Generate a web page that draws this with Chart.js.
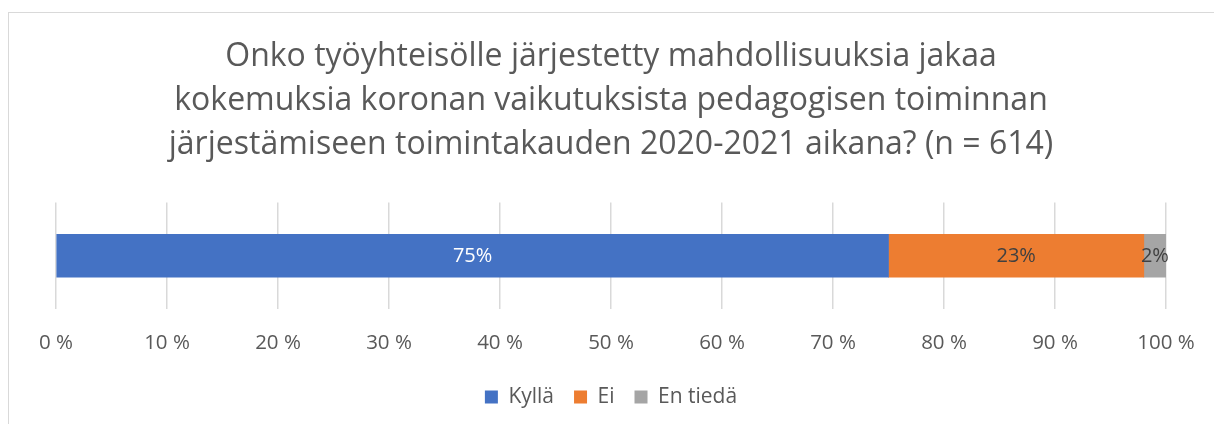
<!DOCTYPE html>
<html>
<head>
<meta charset="utf-8">
<script src="https://cdn.jsdelivr.net/npm/chart.js@4.4.1/dist/chart.umd.min.js"></script>
<style>
  html, body { margin: 0; padding: 0; background: #fff; }
  #wrap { position: relative; width: 1214px; height: 424px; overflow: hidden; }
  #frame {
    position: absolute; left: 8px; top: 12px; right: -10px; bottom: -10px;
    border-left: 1.5px solid #d9d9d9; border-top: 1.5px solid #d9d9d9;
  }
  canvas { position: absolute; left: 0; top: 0; }
</style>
</head>
<body>
<div id="wrap">
  <div id="frame"></div>
  <canvas id="chart" width="1214" height="424"></canvas>
</div>
<script>
/* ---------- data ---------- */
const CATEGORIES  = [''];
const SERIES      = ['Kyllä', 'Ei', 'En tiedä'];
const VALUES      = [[75], [23], [2]];
const COLORS      = ['#4472C4', '#ED7D31', '#A5A5A5'];
const LABEL_COLOR = ['#ffffff', '#404040', '#404040'];
const TITLE_LINES = [
  'Onko työyhteisölle järjestetty mahdollisuuksia jakaa',
  'kokemuksia koronan vaikutuksista pedagogisen toiminnan',
  'järjestämiseen toimintakauden 2020-2021 aikana? (n = 614)',
];

const FONT = "'Open Sans', sans-serif";
const GREY = '#595959';

/* ---------- value labels inside the bars ---------- */
const barLabels = {
  id: 'barLabels',
  afterDatasetsDraw(chart) {
    const ctx = chart.ctx;
    ctx.save();
    ctx.font = '20px ' + FONT;
    ctx.textAlign = 'center';
    ctx.textBaseline = 'middle';
    chart.data.datasets.forEach((ds, i) => {
      chart.getDatasetMeta(i).data.forEach((el, j) => {
        const x = (el.x + el.base) / 2;
        ctx.fillStyle = LABEL_COLOR[i];
        ctx.fillText(ds.data[j] + '%', x, el.y + 1);
      });
    });
    ctx.restore();
  },
};

new Chart(document.getElementById('chart').getContext('2d'), {
  type: 'bar',
  data: {
    labels: CATEGORIES,
    datasets: SERIES.map((name, i) => ({
      label: name,
      data: VALUES[i],
      backgroundColor: COLORS[i],
      barThickness: 43,
    })),
  },
  options: {
    indexAxis: 'y',
    responsive: false,
    animation: false,
    layout: { padding: { left: 56, right: 48, top: 0, bottom: 6.5 } },
    plugins: {
      title: {
        display: true,
        text: TITLE_LINES,
        color: GREY,
        font: { family: FONT, size: 32, weight: 'normal', lineHeight: 1.375 },
        padding: { top: 35, bottom: 35.5 },
      },
      legend: {
        position: 'bottom',
        labels: {
          color: GREY,
          font: { family: FONT, size: 21 },
          boxWidth: 13,
          boxHeight: 13,
          padding: 20,
        },
      },
      tooltip: { enabled: false },
    },
    scales: {
      x: {
        stacked: true,
        min: 0,
        max: 100,
        grid: { color: '#d9d9d9', lineWidth: 1.5, drawTicks: false },
        border: { display: false },
        ticks: {
          stepSize: 10,
          padding: 21.5,
          color: GREY,
          font: { family: FONT, size: 20.5 },
          callback: v => v + ' %',
        },
        afterFit(scale) {
          scale.height = 57.5;
          scale.paddingLeft = 0;
          scale.paddingRight = 0;
        },
      },
      y: {
        stacked: true,
        display: false,
      },
    },
  },
  plugins: [barLabels],
});
</script>
</body>
</html>
